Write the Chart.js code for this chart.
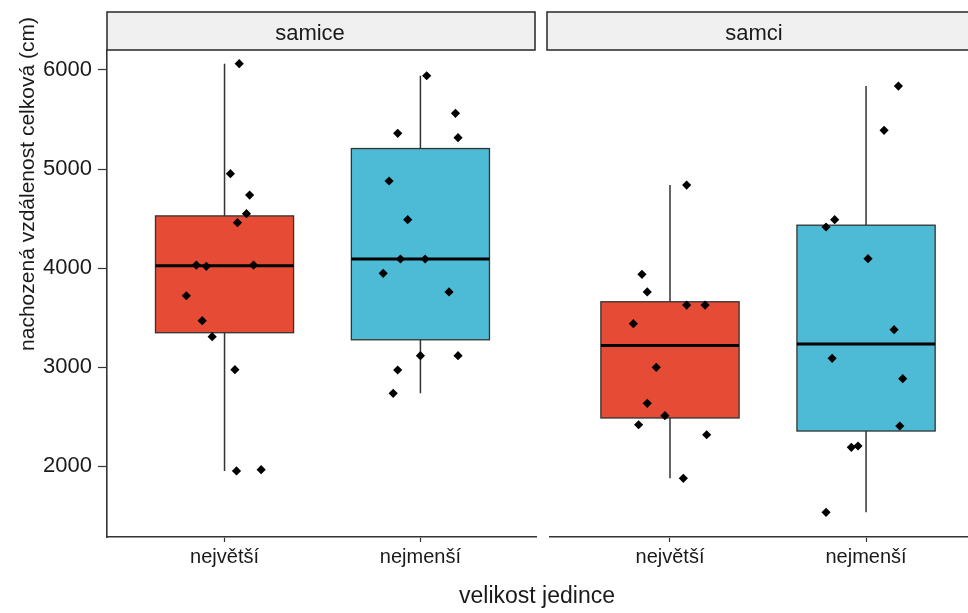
<!DOCTYPE html>
<html>
<head>
<meta charset="utf-8">
<script src="https://cdn.jsdelivr.net/npm/chart.js@4"></script>
<style>
    html, body { margin: 0; padding: 0; background: #fff; overflow: hidden; }
    #wrap { position: relative; width: 968px; height: 613px; }
    #left { position: absolute; left: 0; top: 0; }
    #right { position: absolute; left: 544px; top: 0; }
</style>
</head>
<body>
<div id="wrap">
    <canvas id="left" width="968" height="613" style="width:968px;height:613px"></canvas>
    <canvas id="right" width="424" height="613" style="width:424px;height:613px"></canvas>
</div>
<script>
const panels = ['samice', 'samci'];
const sizeCategories = ['největší', 'nejmenší'];
const yTicks = [2000, 3000, 4000, 5000, 6000];
const boxColors = ['#E64B35', '#4DBBD5'];

// values, with the horizontal jitter of each point (category units)
const femaleLargest = [6064, 4953, 4737, 4549, 4458, 4030, 4017, 4030, 3720, 3468, 3306, 2973, 1950, 1963];
const femaleLargestJitter = [0.075, 0.03, 0.128, 0.112, 0.066, -0.144, -0.093, 0.148, -0.195, -0.114, -0.063, 0.053, 0.061, 0.187];
const femaleSmallest = [5942, 5562, 5360, 5316, 4879, 4488, 4091, 4091, 3946, 3758, 3114, 3114, 2970, 2734];
const femaleSmallestJitter = [0.032, 0.179, -0.116, 0.192, -0.16, -0.065, -0.102, 0.024, -0.19, 0.146, 0, 0.192, -0.116, -0.139];
const maleLargest = [4838, 3936, 3758, 3626, 3626, 3438, 2997, 2633, 2508, 2417, 2316, 1876];
const maleLargestJitter = [0.085, -0.143, -0.116, 0.085, 0.179, -0.187, -0.07, -0.116, -0.026, -0.16, 0.187, 0.068];
const maleSmallest = [5838, 5391, 4488, 4414, 4094, 3377, 3088, 2882, 2404, 2202, 2189, 1532];
const maleSmallestJitter = [0.165, 0.092, -0.16, -0.204, 0.01, 0.143, -0.173, 0.187, 0.172, -0.041, -0.075, -0.204];

const FONT = '"Liberation Sans", Arial, Helvetica, sans-serif';
const INK = '#1a1a1a';
const LINE = '#333333';
const BOX_WIDTH = 0.705;

function quantile(sorted, p) {
    const pos = (sorted.length - 1) * p;
    const lo = Math.floor(pos);
    const hi = Math.ceil(pos);
    return sorted[lo] + (sorted[hi] - sorted[lo]) * (pos - lo);
}

function boxStats(values) {
    const s = [...values].sort((a, b) => a - b);
    const q1 = quantile(s, 0.25);
    const med = quantile(s, 0.5);
    const q3 = quantile(s, 0.75);
    const iqr = q3 - q1;
    const inside = s.filter(v => v >= q1 - 1.5 * iqr && v <= q3 + 1.5 * iqr);
    return { q1, med, q3, lo: inside[0], hi: inside[inside.length - 1] };
}

function jittered(values, jitter, category) {
    return values.map((v, i) => ({ x: category + jitter[i], y: v }));
}

// boxes, whiskers and facet strip of one panel
function panelPlugin(label, groups, strip) {
    return {
        id: 'panel',
        beforeDatasetsDraw(chart) {
            const { ctx } = chart;
            const xs = chart.scales.x;
            const ys = chart.scales.y;
            groups.forEach((values, i) => {
                const st = boxStats(values);
                const cx = xs.getPixelForValue(i + 1);
                const x0 = xs.getPixelForValue(i + 1 - BOX_WIDTH / 2);
                const x1 = xs.getPixelForValue(i + 1 + BOX_WIDTH / 2);
                ctx.save();
                // whisker
                ctx.strokeStyle = LINE;
                ctx.lineWidth = 1.5;
                ctx.beginPath();
                ctx.moveTo(cx, ys.getPixelForValue(st.hi));
                ctx.lineTo(cx, ys.getPixelForValue(st.lo));
                ctx.stroke();
                // box
                const top = ys.getPixelForValue(st.q3);
                const bottom = ys.getPixelForValue(st.q1);
                ctx.fillStyle = boxColors[i];
                ctx.fillRect(x0, top, x1 - x0, bottom - top);
                ctx.lineWidth = 1.3;
                ctx.strokeRect(x0, top, x1 - x0, bottom - top);
                // median
                ctx.strokeStyle = '#000';
                ctx.lineWidth = 3;
                ctx.beginPath();
                ctx.moveTo(x0, ys.getPixelForValue(st.med));
                ctx.lineTo(x1, ys.getPixelForValue(st.med));
                ctx.stroke();
                ctx.restore();
            });
        },
        afterDraw(chart) {
            const { ctx, chartArea } = chart;
            const left = chartArea.left + strip.dl;
            const right = chartArea.right + strip.dr;
            ctx.save();
            ctx.fillStyle = '#f0f0f0';
            ctx.fillRect(left, 12, right - left, chartArea.top - 12);
            ctx.strokeStyle = LINE;
            ctx.lineWidth = 1.6;
            ctx.strokeRect(left, 12, right - left, chartArea.top - 12);
            ctx.fillStyle = INK;
            ctx.font = '22px ' + FONT;
            ctx.textAlign = 'center';
            ctx.textBaseline = 'alphabetic';
            ctx.fillText(label, (left + right) / 2 - 11, 40);
            ctx.restore();
        }
    };
}

// shared axis titles, drawn on the left canvas
const axisTitles = {
    id: 'axisTitles',
    afterDraw(chart) {
        const { ctx } = chart;
        ctx.save();
        ctx.fillStyle = INK;
        ctx.textAlign = 'center';
        ctx.textBaseline = 'alphabetic';
        ctx.font = '23px ' + FONT;
        ctx.fillText('velikost jedince', 537, 603);
        ctx.translate(34, 184);
        ctx.rotate(-Math.PI / 2);
        ctx.font = '21px ' + FONT;
        ctx.fillText('nachozená vzdálenost celková (cm)', 0, 0);
        ctx.restore();
    }
};

function pointDataset(data) {
    return {
        data: data,
        pointStyle: 'rectRot',
        pointRadius: 4.6,
        pointHoverRadius: 4.6,
        backgroundColor: '#000',
        borderColor: '#000',
        borderWidth: 0
    };
}

function xScale(min, max) {
    return {
        type: 'linear',
        min: min,
        max: max,
        afterBuildTicks: s => { s.ticks = [{ value: 1 }, { value: 2 }]; },
        afterFit: s => {
            s.height = 76;
            s.paddingLeft = 0;
            s.paddingRight = 0;
        },
        ticks: {
            callback: v => sizeCategories[v - 1],
            color: INK,
            font: { family: FONT, size: 20 },
            padding: 3,
            maxRotation: 0,
            autoSkip: false
        },
        grid: { display: true, drawOnChartArea: false, tickLength: 5, tickColor: LINE, tickWidth: 1.2 },
        border: { display: true, color: LINE, width: 1.6 }
    };
}

function yScale(show) {
    return {
        display: show,
        min: 1283,
        max: 6202,
        afterBuildTicks: s => { s.ticks = yTicks.map(v => ({ value: v })); },
        afterFit: s => { s.width = show ? 107 : 0; },
        ticks: {
            callback: v => String(v),
            color: INK,
            font: { family: FONT, size: 22 },
            padding: 6
        },
        grid: { display: true, drawOnChartArea: false, tickLength: 9, tickColor: LINE, tickWidth: 1.2 },
        border: { display: true, color: LINE, width: 1.6 }
    };
}

const commonPlugins = {
    legend: { display: false },
    tooltip: { enabled: false }
};

new Chart(document.getElementById('left'), {
    type: 'scatter',
    data: {
        datasets: [
            pointDataset(jittered(femaleLargest, femaleLargestJitter, 1)),
            pointDataset(jittered(femaleSmallest, femaleSmallestJitter, 2))
        ]
    },
    options: {
        responsive: false,
        animation: false,
        layout: { autoPadding: false, padding: { left: 0, top: 50, right: 432, bottom: 0 } },
        plugins: commonPlugins,
        scales: { x: xScale(0.4, 2.59), y: yScale(true) }
    },
    plugins: [panelPlugin(panels[0], [femaleLargest, femaleSmallest], { dl: 0, dr: -1 }), axisTitles]
});

new Chart(document.getElementById('right'), {
    type: 'scatter',
    data: {
        datasets: [
            pointDataset(jittered(maleLargest, maleLargestJitter, 1)),
            pointDataset(jittered(maleSmallest, maleSmallestJitter, 2))
        ]
    },
    options: {
        responsive: false,
        animation: false,
        layout: { autoPadding: false, padding: { left: 6, top: 50, right: 0, bottom: 0 } },
        plugins: commonPlugins,
        scales: { x: xScale(0.388, 2.52), y: yScale(false) }
    },
    plugins: [panelPlugin(panels[1], [maleLargest, maleSmallest], { dl: -3, dr: 15 })]
});
</script>
</body>
</html>
